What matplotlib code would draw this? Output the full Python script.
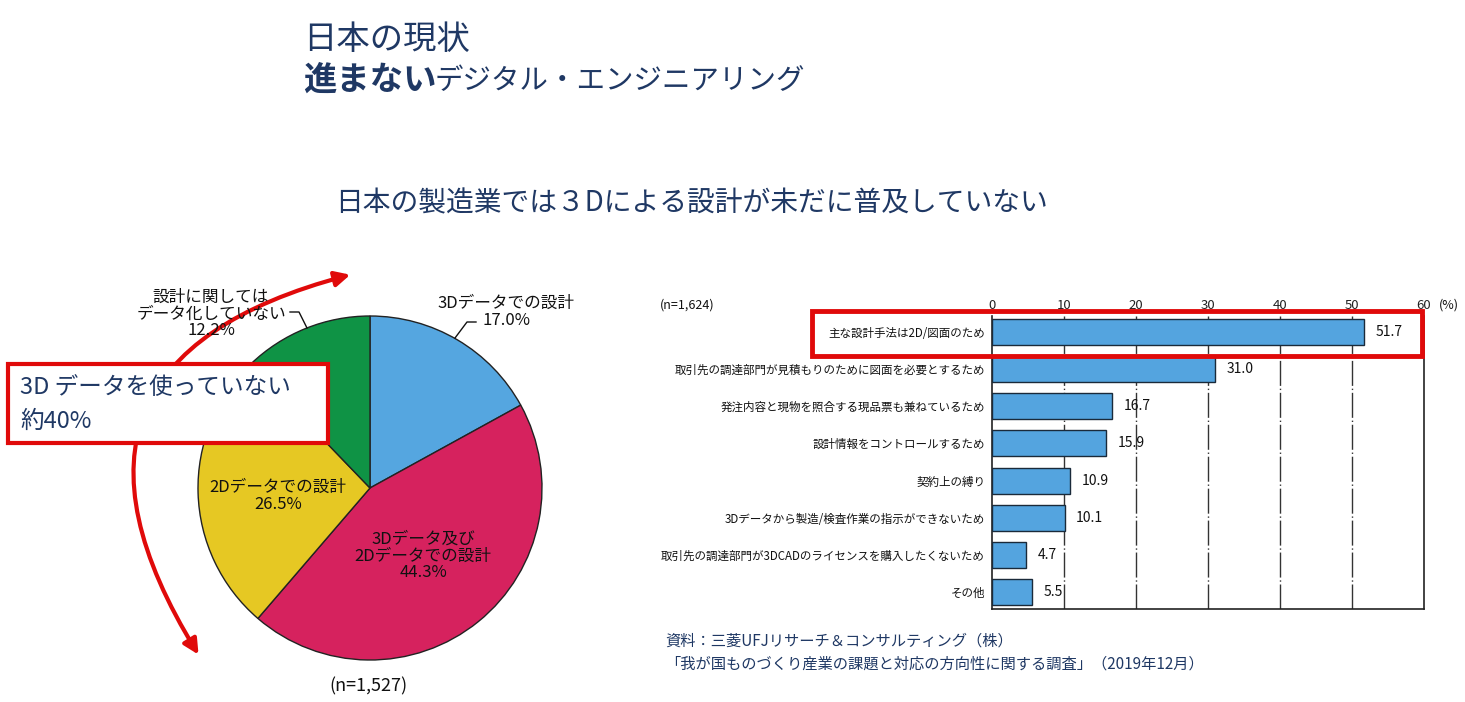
import matplotlib
matplotlib.use("Agg")
import matplotlib.pyplot as plt
from matplotlib.patches import Rectangle, FancyArrowPatch
import numpy as np

plt.rcParams['font.family'] = ['Noto Sans CJK JP', 'DejaVu Sans']

# ---------------- data ----------------
pie_labels = ["3Dデータでの設計", "3Dデータ及び\n2Dデータでの設計", "2Dデータでの設計", "設計に関しては\nデータ化していない"]
pie_values = [17.0, 44.3, 26.5, 12.2]
pie_colors = ["#55A6E0", "#D6225E", "#E6C823", "#0F9345"]

bar_categories = [
    "主な設計手法は2D/図面のため",
    "取引先の調達部門が見積もりのために図面を必要とするため",
    "発注内容と現物を照合する現品票も兼ねているため",
    "設計情報をコントロールするため",
    "契約上の縛り",
    "3Dデータから製造/検査作業の指示ができないため",
    "取引先の調達部門が3DCADのライセンスを購入したくないため",
    "その他",
]
bar_values = [51.7, 31.0, 16.7, 15.9, 10.9, 10.1, 4.7, 5.5]
bar_ticks = [0, 10, 20, 30, 40, 50, 60]

NAVY = "#1F3864"
RED = "#E00A0A"
W, H = 1465, 702

fig = plt.figure(figsize=(W / 100, H / 100), dpi=100)
fig.patch.set_facecolor("white")

def px_axes(x0, y0, x1, y1, **kw):
    return fig.add_axes([x0 / W, 1 - y1 / H, (x1 - x0) / W, (y1 - y0) / H], **kw)

# ---------------- pie ----------------
cx, cy, r = 370, 488, 172
pax = px_axes(cx - r, cy - r, cx + r, cy + r)
pax.pie(pie_values, colors=pie_colors, startangle=90, counterclock=False,
        wedgeprops=dict(edgecolor="#222222", linewidth=1.0))
pax.set_xlim(-1, 1)
pax.set_ylim(-1, 1)
pax.set_aspect("auto")
pax.axis("off")

# ---------------- bar chart ----------------
bax = px_axes(992, 316, 1424, 609)
y = np.arange(len(bar_values))
bax.barh(y, bar_values, height=0.7, color="#54A4DF", edgecolor="#1A2A3A", linewidth=1.0, zorder=3)
bax.set_ylim(len(bar_values) - 0.55, -0.42)
bax.set_xlim(0, 60)
bax.set_yticks(y)
bax.set_yticklabels(bar_categories, fontsize=8.3, color="#111111")
bax.tick_params(axis="y", length=0, pad=5)
bax.xaxis.tick_top()
bax.set_xticks(bar_ticks)
bax.set_xticklabels([str(t) for t in bar_ticks], fontsize=9.5, color="#222222")
bax.tick_params(axis="x", length=0, pad=3)
for t in bar_ticks[1:-1]:
    bax.axvline(t, color="#333333", linewidth=1.0, dashes=(18, 2, 1, 2), zorder=1)
bax.spines["top"].set_visible(False)
for s in ["left", "bottom", "right"]:
    bax.spines[s].set_color("#222222")
    bax.spines[s].set_linewidth(1.2)
for yi, v in zip(y, bar_values):
    bax.text(v + 1.6, yi, f"{v:.1f}", va="center", ha="left", fontsize=10, color="#111111")

# ---------------- overlay ----------------
ov = fig.add_axes([0, 0, 1, 1], zorder=10)
ov.set_xlim(0, W)
ov.set_ylim(H, 0)
ov.axis("off")
ov.patch.set_alpha(0)

# titles
ov.text(303, 40, "日本の現状", fontsize=24, color=NAVY, va="center", ha="left")
t1 = ov.text(303, 80, "進まない", fontsize=24, color=NAVY, va="center", ha="left", fontweight="bold")
fig.canvas.draw()
bb = t1.get_window_extent()
x_end = ov.transData.inverted().transform((bb.x1, bb.y0))[0]
ov.text(x_end - 2, 81, "デジタル・エンジニアリング", fontsize=20.5, color=NAVY, va="center", ha="left")
ov.text(335, 203, "日本の製造業では３Dによる設計が未だに普及していない", fontsize=20, color=NAVY,
        va="center", ha="left")

# pie labels
lab_kw = dict(fontsize=12, color="#111111", ha="center", va="center", linespacing=0.95)
ov.text(506, 312, pie_labels[0] + f"\n{pie_values[0]:.1f}%", **lab_kw)
ov.text(423, 556, pie_labels[1] + f"\n{pie_values[1]:.1f}%", **lab_kw)
ov.text(278, 496, pie_labels[2] + f"\n{pie_values[2]:.1f}%", **lab_kw)
ov.text(211, 314, pie_labels[3] + f"\n{pie_values[3]:.1f}%", **lab_kw)
ov.plot([476, 467, 455], [322, 322, 338], color="#111111", linewidth=1.0)
ov.plot([290, 299, 307], [312, 312, 328], color="#111111", linewidth=1.0)
ov.text(368, 686, "(n=1,527)", fontsize=13, color="#111111", ha="center", va="center")

# red arc arrow
arr = FancyArrowPatch((200, 657), (353, 274), transform=ov.transData,
                      connectionstyle="arc3,rad=-0.68", arrowstyle="<|-|>,head_length=9,head_width=4.5",
                      color=RED, linewidth=3, zorder=2)
ov.add_patch(arr)

# left callout box
ov.add_patch(Rectangle((8, 364), 320, 79, facecolor="white", edgecolor=RED, linewidth=3, zorder=5))
ov.text(20, 387, "3D データを使っていない", fontsize=17, color=NAVY, va="center", ha="left", zorder=6)
ov.text(20, 421, "約40%", fontsize=17, color=NAVY, va="center", ha="left", zorder=6)

# highlight on first bar
ov.add_patch(Rectangle((812, 311), 610, 45, facecolor="none", edgecolor=RED, linewidth=3.5, zorder=5))

# bar chart annotations
ov.text(660, 305, "(n=1,624)", fontsize=9, color="#111111", ha="left", va="center")
ov.text(1439, 305, "(%)", fontsize=9, color="#111111", ha="left", va="center")

# source
ov.text(665, 641, "資料：三菱UFJリサーチ＆コンサルティング（株）", fontsize=11, color=NAVY,
        ha="left", va="center")
ov.text(665, 664, "「我が国ものづくり産業の課題と対応の方向性に関する調査」（2019年12月）", fontsize=11,
        color=NAVY, ha="left", va="center")

fig.savefig("out.png", dpi=100, facecolor="white")
